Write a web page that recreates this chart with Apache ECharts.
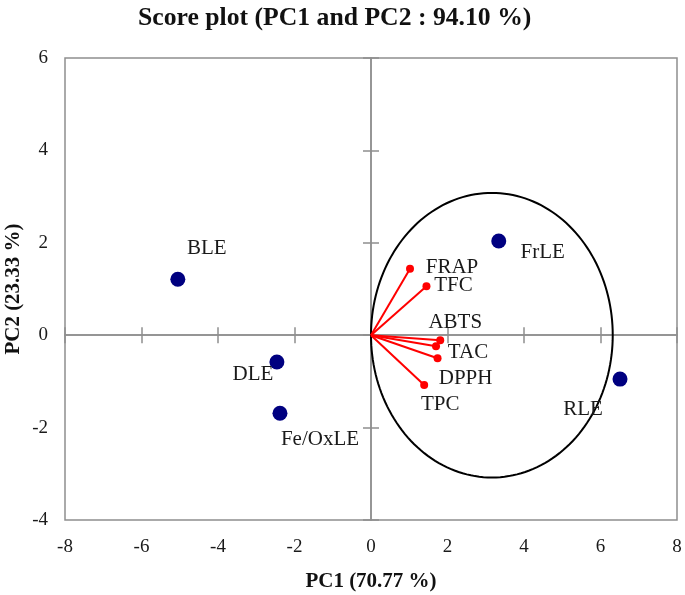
<!DOCTYPE html>
<html>
<head>
<meta charset="utf-8">
<script src="https://cdn.jsdelivr.net/npm/echarts@6/dist/echarts.min.js"></script>
<style>
html,body{margin:0;padding:0;background:#fff;}
#chart{width:685px;height:595px;}
</style>
</head>
<body>
<div id="chart"></div>
<script>
// ---- data ----
const xTicks = [-8, -6, -4, -2, 0, 2, 4, 6, 8];
const yTicks = [-4, -2, 0, 2, 4, 6];
const scoreNames = ['BLE', 'DLE', 'Fe/OxLE', 'FrLE', 'RLE'];
const scorePC1 = [-5.05, -2.46, -2.38, 3.34, 6.51];
const scorePC2 = [1.21, -0.58, -1.69, 2.04, -0.95];
const loadNames = ['FRAP', 'TFC', 'ABTS', 'TAC', 'DPPH', 'TPC'];
const loadPC1 = [1.02, 1.45, 1.81, 1.70, 1.74, 1.39];
const loadPC2 = [1.44, 1.06, -0.11, -0.24, -0.50, -1.08];
const circle = [3.16, 0, 3.16, 3.08]; // centre x, centre y, radius x, radius y

// ---- styling (label placement in pixels) ----
const scoreLabelOffsets = [[29, -31], [-24, 12], [40, 26], [44, 12], [-37, 30]];
const loadLabelOffsets = [[42, -1], [27, -1], [15, -18], [32, 6], [28, 20], [16, 19]];

const FONT = 'Liberation Serif';
const GRAY = '#8f8f8f';

const chart = echarts.init(document.getElementById('chart'), null, {renderer: 'canvas'});

function zeroAxis(dim, inside) {
  return {
    type: 'value', min: dim === 'x' ? xTicks[0] : yTicks[0],
    max: dim === 'x' ? xTicks[xTicks.length - 1] : yTicks[yTicks.length - 1],
    interval: 2, gridIndex: 0,
    axisLine: {show: true, onZero: true, lineStyle: {color: GRAY, width: 1.5}},
    axisTick: {show: true, inside: inside, length: 8, lineStyle: {color: GRAY, width: 1.5}},
    axisLabel: {show: false}, splitLine: {show: false}
  };
}

const option = {
  backgroundColor: '#fff',
  animation: false,
  title: {
    text: 'Score plot (PC1 and PC2 : 94.10 %)',
    left: 133, top: 0,
    textStyle: {fontFamily: FONT, fontWeight: 'bold', fontSize: 25.7, color: '#111'}
  },
  grid: {left: 65, right: 8, top: 58, bottom: 75, show: true, borderColor: GRAY, borderWidth: 1.5,
    containLabel: false, outerBoundsMode: 'none'},
  xAxis: [
    {
      type: 'value', min: xTicks[0], max: xTicks[xTicks.length - 1], interval: 2, position: 'bottom',
      axisLine: {show: false, onZero: false}, axisTick: {show: false}, splitLine: {show: false},
      axisLabel: {margin: 18, fontFamily: FONT, fontSize: 19, color: '#1a1a1a'},
      name: 'PC1 (70.77 %)', nameLocation: 'middle', nameGap: 51, nameMoveOverlap: false,
      nameTextStyle: {fontFamily: FONT, fontWeight: 'bold', fontSize: 21, color: '#111'}
    },
    zeroAxis('x', true), zeroAxis('x', false)
  ],
  yAxis: [
    {
      type: 'value', min: yTicks[0], max: yTicks[yTicks.length - 1], interval: 2, position: 'left',
      axisLine: {show: false, onZero: false}, axisTick: {show: false}, splitLine: {show: false},
      axisLabel: {margin: 17, fontFamily: FONT, fontSize: 19, color: '#1a1a1a'},
      name: 'PC2 (23.33 %)', nameLocation: 'middle', nameGap: 41, nameRotate: 90, nameMoveOverlap: false,
      nameTextStyle: {fontFamily: FONT, fontWeight: 'bold', fontSize: 21, color: '#111'}
    },
    zeroAxis('y', true), zeroAxis('y', false)
  ],
  series: [
    {
      type: 'custom', xAxisIndex: 0, yAxisIndex: 0, silent: true, z: 3,
      data: [circle],
      renderItem: function (params, api) {
        const c = api.coord([api.value(0), api.value(1)]);
        const s = api.size([api.value(2), api.value(3)]);
        const pts = [];
        for (let i = 0; i <= 180; i++) {
          const a = i / 180 * Math.PI * 2;
          pts.push([c[0] + s[0] * Math.cos(a), c[1] + s[1] * Math.sin(a)]);
        }
        return {type: 'polyline', shape: {points: pts}, style: {stroke: '#000', lineWidth: 2, fill: null}};
      }
    },
    {
      type: 'custom', xAxisIndex: 0, yAxisIndex: 0, silent: true, z: 4,
      data: loadPC1.map((x, i) => [x, loadPC2[i]]),
      renderItem: function (params, api) {
        const o = api.coord([0, 0]);
        const p = api.coord([api.value(0), api.value(1)]);
        return {type: 'line', shape: {x1: o[0], y1: o[1], x2: p[0], y2: p[1]}, style: {stroke: '#ff0000', lineWidth: 2}};
      }
    },
    {
      type: 'scatter', xAxisIndex: 0, yAxisIndex: 0, z: 5,
      symbolSize: 8,
      itemStyle: {color: '#ff0000', opacity: 1},
      data: loadPC1.map((x, i) => ({
        value: [x, loadPC2[i]], name: loadNames[i],
        label: {show: true, position: 'inside', offset: loadLabelOffsets[i], formatter: loadNames[i],
          fontFamily: FONT, fontSize: 21, color: '#1a1a1a'}
      }))
    },
    {
      type: 'scatter', xAxisIndex: 0, yAxisIndex: 0, z: 6,
      symbolSize: 15,
      itemStyle: {color: '#000080', opacity: 1},
      data: scorePC1.map((x, i) => ({
        value: [x, scorePC2[i]], name: scoreNames[i],
        label: {show: true, position: 'inside', offset: scoreLabelOffsets[i], formatter: scoreNames[i],
          fontFamily: FONT, fontSize: 21, color: '#1a1a1a'}
      }))
    }
  ]
};
chart.setOption(option);
</script>
</body>
</html>
